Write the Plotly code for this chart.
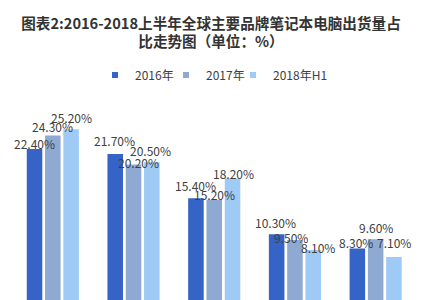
import plotly.graph_objects as go

categories = ["联想", "惠普", "戴尔", "苹果", "华硕"]
series_names = ["2016年", "2017年", "2018年H1"]
v2016 = [22.4, 21.7, 15.4, 10.3, 8.3]
v2017 = [24.3, 20.2, 15.2, 9.5, 9.6]
v2018 = [25.2, 20.5, 18.2, 8.1, 7.1]

colors = ["#3663c6", "#8eaad2", "#9ecaf5"]
values = [v2016, v2017, v2018]

# label placement style (pixels): raise of label centre above bar top, sideways nudge
label_raise = [[5, 13, 13, 12, 6], [9, 2, 5, 3, 12], [12, 12, 5, 2, 14]]
label_nudge = [[0, -1, 0, -1, -1], [0, 5, 0, -4, 0], [0, -1, 1, 5, 0]]
# legend entry left edges (pixels from left of figure)
legend_left_px = [95, 166, 233]

W, H = 422, 300
ML, MR, MT, MB = 12, 6, 60, 0
BARGAP, GROUPGAP = 0.32, 0.15
plot_w = W - ML - MR

fig = go.Figure()
legend_ids = ["legend", "legend2", "legend3"]
for name, vals, col, lid in zip(series_names, values, colors, legend_ids):
    fig.add_trace(go.Bar(
        x=categories, y=vals, name=name, showlegend=False,
        marker=dict(color=col, line=dict(width=0)),
    ))
    fig.add_trace(go.Scatter(
        x=[None], y=[None], mode="markers", name=name, legend=lid,
        marker=dict(symbol="square", size=6, color=col),
    ))

# data labels as annotations aligned to each bar of the group
cat_w = plot_w / len(categories)
slot = cat_w * (1 - BARGAP) / len(series_names)
annotations = []
for j, vals in enumerate(values):
    for i, v in enumerate(vals):
        annotations.append(dict(
            x=categories[i], y=v, xref="x", yref="y",
            text=f"{v:.2f}%", showarrow=False,
            xanchor="center", yanchor="middle",
            xshift=(j - 1) * slot + label_nudge[j][i],
            yshift=label_raise[j][i],
            font=dict(family="Noto Sans CJK SC, Noto Sans", size=12, color="#404040"),
        ))

legend_style = dict(
    orientation="h", y=0.9375, yanchor="middle", xanchor="left",
    font=dict(family="Noto Sans CJK SC", size=12, color="#404040"),
    itemwidth=30, bgcolor="rgba(0,0,0,0)", borderwidth=0,
)
legends = {}
for lid, px in zip(legend_ids, legend_left_px):
    legends[lid] = dict(legend_style, x=(px - ML) / plot_w)

fig.update_layout(
    width=W, height=H,
    margin=dict(l=ML, r=MR, t=MT, b=MB),
    paper_bgcolor="white", plot_bgcolor="white",
    barmode="group", bargap=BARGAP, bargroupgap=GROUPGAP,
    title=dict(
        text="<b>图表2:2016-2018上半年全球主要品牌笔记本电脑出货量占<br>比走势图（单位：%）</b>",
        x=0.5, xanchor="center", xref="container",
        y=0.905, yanchor="top", yref="container",
        font=dict(family="Noto Sans CJK SC", size=14.6, color="#333333"),
    ),
    annotations=annotations,
    xaxis=dict(showticklabels=False, showline=False, showgrid=False, zeroline=False, ticks=""),
    yaxis=dict(range=[1.0, 35], visible=False, showgrid=False, zeroline=False),
    showlegend=True,
    **legends,
)

fig.write_html("out.html")
